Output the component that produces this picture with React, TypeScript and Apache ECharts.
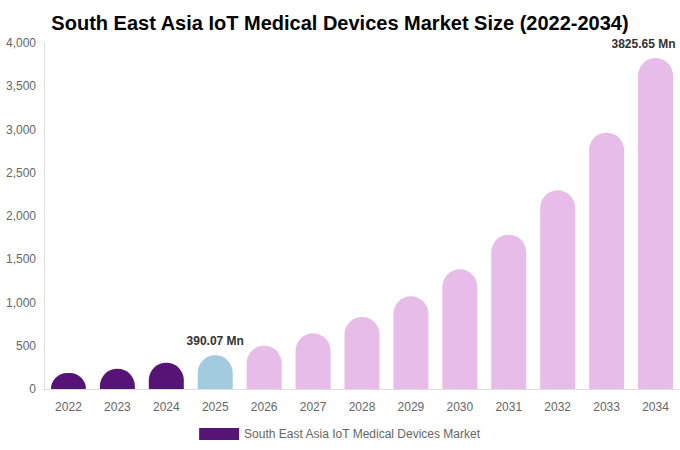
import { useEffect, useRef } from 'react'
import * as echarts from 'echarts'

const years = ['2022', '2023', '2024', '2025', '2026', '2027', '2028', '2029', '2030', '2031', '2032', '2033', '2034']
const marketSize = [185, 235, 304, 390.07, 501, 644, 832, 1071, 1383, 1784, 2297, 2963, 3825.65]
const labelledYears = ['2025', '2034']
const seriesName = 'South East Asia IoT Medical Devices Market'

const HISTORY = '#561474'
const BASE = '#a3cbe0'
const FORECAST = '#e8bce8'

const App = () => {
  const chartRef = useRef<HTMLDivElement>(null)

  useEffect(() => {
    document.body.style.margin = '0'
    if (!chartRef.current) return
    const chart = echarts.init(chartRef.current, undefined, { renderer: 'svg' })

    const data = marketSize.map((v, i) => {
      const y = years[i]
      const color = +y < 2025 ? HISTORY : +y === 2025 ? BASE : FORECAST
      return {
        value: v,
        itemStyle: { color },
        label: {
          show: labelledYears.includes(y),
          // keep the last label inside the chart's right edge
          offset: i === years.length - 1 ? [-12, 0] : [0, 0],
          formatter: (p: any) => `${p.value} Mn`
        }
      }
    })

    chart.setOption({
      animation: false,
      textStyle: { fontFamily: 'Liberation Sans, Arial, sans-serif' },
      title: {
        text: 'South East Asia IoT Medical Devices Market Size (2022-2034)',
        left: 'center',
        top: 8,
        textStyle: { fontSize: 20, fontWeight: 'bold', color: '#000' }
      },
      legend: {
        bottom: 5,
        left: 'center',
        icon: 'rect',
        itemWidth: 40,
        itemHeight: 12,
        itemGap: 5,
        textStyle: { color: '#666', fontSize: 12 },
        data: [{ name: seriesName, itemStyle: { color: HISTORY } }]
      },
      grid: { left: 44, right: 0, top: 43, bottom: 61 },
      xAxis: {
        type: 'category',
        data: years,
        axisTick: { show: false },
        axisLine: { lineStyle: { color: '#ddd' } },
        axisLabel: { color: '#666', fontSize: 12, margin: 12 }
      },
      yAxis: {
        type: 'value',
        min: 0,
        max: 4000,
        interval: 500,
        splitLine: { show: false },
        axisLine: { show: true, lineStyle: { color: '#ddd' } },
        axisLabel: {
          color: '#666',
          fontSize: 12,
          formatter: (v: number) => v.toLocaleString('en-US')
        }
      },
      series: [
        {
          name: seriesName,
          type: 'bar',
          barWidth: 35,
          data,
          itemStyle: { borderRadius: [18, 18, 0, 0], color: HISTORY },
          label: {
            position: 'top',
            distance: 8,
            color: '#333',
            fontWeight: 'bold',
            fontSize: 12
          }
        }
      ]
    })

    return () => chart.dispose()
  }, [])

  return <div ref={chartRef} style={{ width: 680, height: 450 }} />
}

export default App
